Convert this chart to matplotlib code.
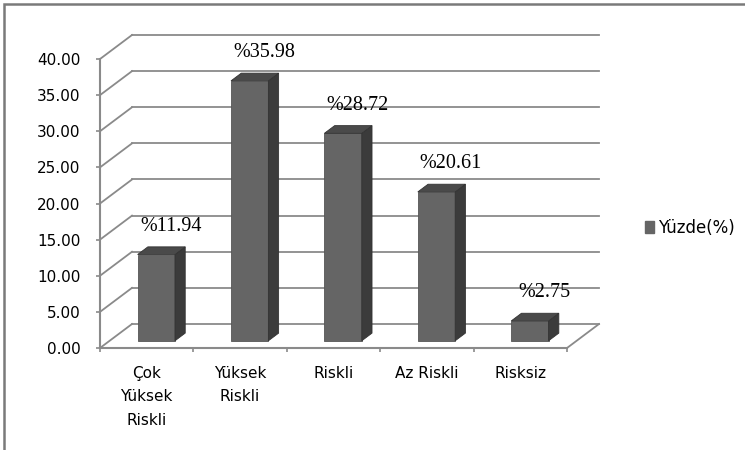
import matplotlib
matplotlib.use('Agg')
import matplotlib.pyplot as plt
from matplotlib.patches import Polygon, Rectangle, Patch

# data
categories = ['Çok\nYüksek\nRiskli', 'Yüksek\nRiskli', 'Riskli', 'Az Riskli', 'Risksiz']
values = [11.94, 35.98, 28.72, 20.61, 2.75]
value_labels = ['%11.94', '%35.98', '%28.72', '%20.61', '%2.75']
yticks = [0, 5, 10, 15, 20, 25, 30, 35, 40]
series_name = 'Yüzde(%)'

# colours
front_col = '#656565'
side_col = '#3b3b3b'
top_col = '#4a4a4a'
grid_col = '#8a8a8a'

fig_w, fig_h, dpi = 7.45, 4.5, 100
fig = plt.figure(figsize=(fig_w, fig_h), dpi=dpi)
plt.rcParams['font.family'] = 'DejaVu Sans'

# front plane of the 3d box
ax_box = [100 / 745, 102 / 450, 467 / 745, 289 / 450]
ax = fig.add_axes(ax_box)
ncat = len(categories)
ax.set_xlim(0, ncat)
ax.set_ylim(yticks[0], yticks[-1])

# depth of the box (pixels) turned into data units
depth_px = (32, 24)
ux = ax_box[2] * fig_w * dpi / ncat
uy = ax_box[3] * fig_h * dpi / (yticks[-1] - yticks[0])
dx = depth_px[0] / ux
dy = depth_px[1] / uy

# back wall gridlines + side wall diagonals
for v in yticks:
    ax.plot([dx, ncat + dx], [v + dy, v + dy], color=grid_col, lw=1.3, clip_on=False, zorder=1)
    ax.plot([0, dx], [v, v + dy], color=grid_col, lw=1.3, clip_on=False, zorder=1)
# right edge of the floor
ax.plot([ncat, ncat + dx], [0, dy], color=grid_col, lw=1.3, clip_on=False, zorder=1)

# bars
f0, f1 = 0.30, 0.62
bw = 0.4
bdx = (f1 - f0) * dx
bdy = (f1 - f0) * dy
for i, v in enumerate(values):
    x0 = i + (1 - bw) / 2 + f0 * dx
    x1 = x0 + bw
    yb = f0 * dy
    yt = v + f0 * dy
    ax.add_patch(Rectangle((x0, yb), bw, v, facecolor=front_col, edgecolor='#555555',
                           lw=0.6, clip_on=False, zorder=3))
    ax.add_patch(Polygon([(x1, yb), (x1, yt), (x1 + bdx, yt + bdy), (x1 + bdx, yb + bdy)],
                         closed=True, facecolor=side_col, edgecolor='#333333', lw=0.6,
                         clip_on=False, zorder=3))
    ax.add_patch(Polygon([(x0, yt), (x1, yt), (x1 + bdx, yt + bdy), (x0 + bdx, yt + bdy)],
                         closed=True, facecolor=top_col, edgecolor='#333333', lw=0.6,
                         clip_on=False, zorder=3))
    ax.annotate(value_labels[i], ((x0 + x1) / 2 + bdx, yt + bdy), xytext=(3, 8),
                textcoords='offset points', ha='center', va='bottom',
                fontsize=14.5, family='Liberation Serif', zorder=4)

# axes styling
for s in ['top', 'right']:
    ax.spines[s].set_visible(False)
for s in ['left', 'bottom']:
    ax.spines[s].set_color(grid_col)
    ax.spines[s].set_linewidth(1.5)
ax.set_facecolor('none')

ax.set_yticks(yticks)
ax.set_yticklabels(['%.2f' % t for t in yticks])
ax.tick_params(axis='y', length=3, width=1.2, color=grid_col, pad=11, labelsize=11)

ax.set_xticks(range(ncat + 1))
ax.set_xticklabels([''] * (ncat + 1))
ax.tick_params(axis='x', which='major', length=3, width=1.2, color=grid_col)
ax.set_xticks([i + 0.5 for i in range(ncat)], minor=True)
ax.set_xticklabels(categories, minor=True, fontsize=11, linespacing=1.7, va='top')
ax.tick_params(axis='x', which='minor', length=0, pad=13)

# legend
ax.legend(handles=[Patch(facecolor=front_col, edgecolor=front_col)], labels=[series_name],
          loc='center left', bbox_to_anchor=(645 / 745, 1 - 228 / 450),
          bbox_transform=fig.transFigure, frameon=False, fontsize=12,
          handlelength=0.55, handleheight=0.75, handletextpad=0.25,
          borderpad=0, borderaxespad=0)

# chart area border
fig.patches.append(Rectangle((4 / 745, -0.1), 1.2, 1.1 - 4 / 450, transform=fig.transFigure,
                             fill=False, edgecolor='#7a7a7a', lw=1.8))

fig.savefig('out.png', dpi=dpi)
